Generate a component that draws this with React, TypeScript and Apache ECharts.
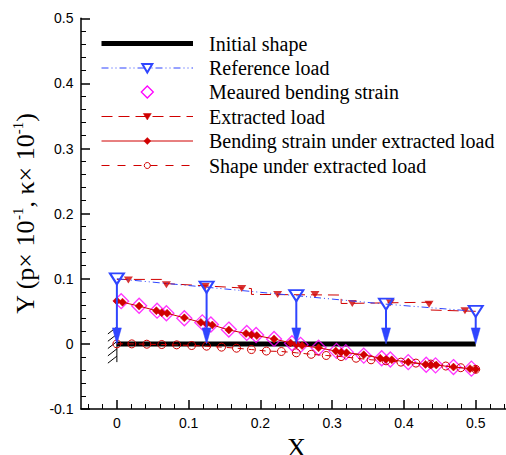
import React, { useEffect, useRef } from "react";
import * as echarts from "echarts";

// ---------- data ----------
const initX = [0, 0.5];
const initY = [0, 0];

const refX = [0, 0.125, 0.25, 0.375, 0.5];
const refY = [0.1, 0.087, 0.074, 0.061, 0.05];

const stepX = [0, 0.0625, 0.0625, 0.1875, 0.1875, 0.3125, 0.3125, 0.4375, 0.4375, 0.5];
const stepY = [0.099, 0.099, 0.093, 0.085, 0.076, 0.075, 0.062, 0.064, 0.052, 0.05];

const extX = [0.016, 0.069, 0.123, 0.174, 0.224, 0.276, 0.328, 0.381, 0.435, 0.485];
const extY = [0.098, 0.091, 0.088, 0.085, 0.076, 0.076, 0.062, 0.063, 0.061, 0.051];

const measX = [0.006, 0.031, 0.056, 0.069, 0.094, 0.119, 0.131, 0.156, 0.181, 0.194, 0.219, 0.244, 0.256, 0.281, 0.306, 0.319, 0.344, 0.369, 0.381, 0.406, 0.431, 0.444, 0.469, 0.494];
const measY = [0.0656, 0.0585, 0.051, 0.047, 0.0394, 0.033, 0.0298, 0.022, 0.0168, 0.0137, 0.0076, 0.001, -0.0015, -0.006, -0.0107, -0.0127, -0.018, -0.022, -0.024, -0.028, -0.032, -0.033, -0.0356, -0.038];

const bendX = [0, 0.0078, 0.031, 0.055, 0.0625, 0.07, 0.094, 0.117, 0.125, 0.133, 0.156, 0.18, 0.1875, 0.195, 0.219, 0.242, 0.25, 0.258, 0.281, 0.305, 0.3125, 0.32, 0.344, 0.367, 0.375, 0.383, 0.406, 0.43, 0.4375, 0.445, 0.469, 0.492, 0.5];
const bendY = [0.066, 0.064, 0.058, 0.051, 0.048, 0.047, 0.04, 0.033, 0.031, 0.029, 0.0214, 0.016, 0.014, 0.0127, 0.0076, 0.0015, -0.001, -0.0026, -0.006, -0.011, -0.0127, -0.0135, -0.0168, -0.022, -0.024, -0.0245, -0.028, -0.0315, -0.032, -0.0325, -0.0356, -0.038, -0.039];

const shapeX = [0, 0.0208, 0.0417, 0.0625, 0.0833, 0.1042, 0.125, 0.1458, 0.1667, 0.1875, 0.2083, 0.2292, 0.25, 0.2708, 0.2917, 0.3125, 0.3333, 0.3542, 0.375, 0.3958, 0.4167, 0.4375, 0.4583, 0.4792, 0.5];
const shapeY = [0, 0, -0.0005, -0.001, -0.0015, -0.0025, -0.0035, -0.005, -0.0066, -0.0087, -0.011, -0.0117, -0.0137, -0.016, -0.0178, -0.0195, -0.022, -0.0244, -0.026, -0.028, -0.0295, -0.031, -0.034, -0.0366, -0.039];

// ---------- axes ----------
const X_MIN = -0.05, X_MAX = 0.55, Y_MIN = -0.1, Y_MAX = 0.5;
const xMajorTicks = [0, 0.1, 0.2, 0.3, 0.4, 0.5];
const xMinorTicks = [-0.04, -0.02, 0.02, 0.04, 0.06, 0.08, 0.12, 0.14, 0.16, 0.18, 0.22, 0.24, 0.26, 0.28, 0.32, 0.34, 0.36, 0.38, 0.42, 0.44, 0.46, 0.48, 0.52, 0.54];
const xName = "X";
const yNameRich = "{n|Y (p× 10}{s|-1}{n|, κ× 10}{s|-1}{n|)}";

const legendLabels = [
  "Initial shape",
  "Reference load",
  "Meaured bending strain",
  "Extracted load",
  "Bending strain under extracted load",
  "Shape under extracted load",
];

const BLUE = "#2f45ff";
const RED = "#d00000";
const MAG = "#ff00ff";
const SERIF = "Liberation Serif";
const SANS = "Liberation Sans";

const GRID = { left: 81, right: -5.6, top: 18.3, bottom: 46, outerBoundsMode: "none" };

const zip = (xs: number[], ys: number[]) => xs.map((x, i) => [x, ys[i]]);

export default function App() {
  const dataRef = useRef<HTMLDivElement>(null);
  const axisRef = useRef<HTMLDivElement>(null);
  useEffect(() => {
    const chart = echarts.init(dataRef.current!, null, { renderer: "svg" });
    const axisChart = echarts.init(axisRef.current!, null, { renderer: "svg" });

    // legend graphics
    const rows = [43.5, 68, 92, 116.5, 141, 165.5];
    const lx1 = 101.5, lx2 = 193, sx = 147.3, tx = 209;
    const g: any[] = [];
    const line = (y: number, stroke: string, w: number, dash?: number[]) => ({
      type: "line",
      shape: { x1: lx1, y1: y, x2: lx2, y2: y },
      style: dash ? { stroke, lineWidth: w, lineDash: dash } : { stroke, lineWidth: w },
    });
    g.push(line(rows[0], "#000", 5));
    g.push(line(rows[1], BLUE, 1, [7, 3, 1, 3, 1, 3]));
    g.push({
      type: "polygon",
      shape: { points: [[sx - 5, rows[1] - 4], [sx + 5, rows[1] - 4], [sx, rows[1] + 4.5]] },
      style: { fill: "#fff", stroke: BLUE, lineWidth: 2 },
    });
    g.push({
      type: "polygon",
      shape: { points: [[sx, rows[2] - 6], [sx + 6, rows[2]], [sx, rows[2] + 6], [sx - 6, rows[2]]] },
      style: { fill: "#fff", stroke: MAG, lineWidth: 1.3 },
    });
    g.push(line(rows[3], RED, 1, [11, 6]));
    g.push({
      type: "polygon",
      shape: { points: [[sx - 4, rows[3] - 3], [sx + 4, rows[3] - 3], [sx, rows[3] + 3.5]] },
      style: { fill: RED, stroke: RED, lineWidth: 0.5 },
    });
    g.push(line(rows[4], RED, 1));
    g.push({
      type: "polygon",
      shape: { points: [[sx, rows[4] - 3.5], [sx + 3.5, rows[4]], [sx, rows[4] + 3.5], [sx - 3.5, rows[4]]] },
      style: { fill: RED, stroke: RED, lineWidth: 0.5 },
    });
    g.push(line(rows[5], RED, 1, [8, 8]));
    g.push({
      type: "circle",
      shape: { cx: sx, cy: rows[5], r: 3 },
      style: { fill: "#fff", stroke: RED, lineWidth: 1 },
    });
    legendLabels.forEach((t, i) => {
      g.push({
        type: "text",
        x: tx,
        y: rows[i],
        style: { text: t, fontFamily: SERIF, fontSize: 20, fill: "#000", verticalAlign: "middle", align: "left" },
      });
    });

    // ----- data chart -----
    chart.setOption({
      animation: false,
      grid: GRID,
      xAxis: { type: "value", min: X_MIN, max: X_MAX, show: false },
      yAxis: { type: "value", min: Y_MIN, max: Y_MAX, interval: 0.1, show: false },
      graphic: g,
      series: [
        {
          name: "Initial shape",
          type: "line",
          data: zip(initX, initY),
          showSymbol: false,
          lineStyle: { color: "#000", width: 5 },
          z: 2,
        },
        {
          name: "clamp",
          type: "custom",
          data: [[0, 0]],
          clip: false,
          z: 2,
          renderItem: (params: any, api: any) => {
            const p = api.coord([api.value(0), 0.026]);
            const q = api.coord([api.value(0), -0.028]);
            const ch: any[] = [
              { type: "line", shape: { x1: p[0], y1: p[1], x2: q[0], y2: q[1] }, style: { stroke: "#000", lineWidth: 1 } },
            ];
            for (let i = 0; i < 5; i++) {
              const y = p[1] + i * 7.3;
              ch.push({ type: "line", shape: { x1: p[0], y1: y, x2: p[0] - 9, y2: y + 7 }, style: { stroke: "#000", lineWidth: 1 } });
            }
            return { type: "group", children: ch };
          },
        },
        {
          name: "Meaured bending strain",
          type: "scatter",
          data: zip(measX, measY),
          symbol: "diamond",
          symbolSize: 15,
          itemStyle: { color: "rgba(255,255,255,0)", borderColor: MAG, borderWidth: 1.3 },
          z: 3,
        },
        {
          name: "Bending strain under extracted load",
          type: "line",
          data: zip(bendX, bendY),
          symbol: "diamond",
          symbolSize: 8,
          showAllSymbol: true,
          lineStyle: { color: RED, width: 1 },
          itemStyle: { color: RED, borderColor: RED, borderWidth: 0.5 },
          z: 4,
        },
        {
          name: "Shape under extracted load",
          type: "line",
          data: zip(shapeX, shapeY),
          symbol: "circle",
          symbolSize: 8,
          showAllSymbol: true,
          lineStyle: { color: RED, width: 1, type: [6, 5] },
          itemStyle: { color: "rgba(255,255,255,0)", borderColor: RED, borderWidth: 1 },
          z: 4,
        },
        {
          name: "Extracted load",
          type: "line",
          data: zip(stepX, stepY),
          showSymbol: false,
          lineStyle: { color: RED, width: 1, type: [11, 6] },
          z: 5,
        },
        {
          name: "Extracted load markers",
          type: "scatter",
          data: zip(extX, extY),
          symbol: "triangle",
          symbolRotate: 180,
          symbolSize: [9, 7],
          itemStyle: { color: RED },
          z: 5,
        },
        {
          name: "Reference load",
          type: "line",
          data: zip(refX, refY),
          symbol: "triangle",
          symbolRotate: 180,
          symbolSize: [14, 11],
          showAllSymbol: true,
          lineStyle: { color: BLUE, width: 1, type: [7, 3, 1, 3, 1, 3] },
          itemStyle: { color: "rgba(255,255,255,0)", borderColor: BLUE, borderWidth: 2 },
          z: 6,
        },
        {
          name: "Load arrows",
          type: "custom",
          data: zip(refX, refY),
          clip: false,
          z: 6,
          renderItem: (params: any, api: any) => {
            const x = api.value(0);
            const y = api.value(1);
            const p0 = api.coord([x, y]);
            const p1 = api.coord([x, 0]);
            return {
              type: "group",
              children: [
                { type: "line", shape: { x1: p0[0], y1: p0[1] + 5, x2: p1[0], y2: p1[1] - 14 }, style: { stroke: BLUE, lineWidth: 2 } },
                {
                  type: "polygon",
                  shape: { points: [[p1[0] - 4.5, p1[1] - 16], [p1[0] + 4.5, p1[1] - 16], [p1[0], p1[1]]] },
                  style: { fill: BLUE, stroke: BLUE, lineWidth: 0.5 },
                },
              ],
            };
          },
        },
      ],
    } as any);

    // ----- axis chart (overlay with the same grid and scales) -----
    axisChart.setOption({
      animation: false,
      backgroundColor: "rgba(0,0,0,0)",
      grid: GRID,
      xAxis: [
        {
          type: "value",
          min: X_MIN,
          max: X_MAX,
          name: xName,
          nameLocation: "middle",
          nameGap: 21,
          nameTextStyle: { fontFamily: SERIF, fontSize: 26, color: "#000" },
          axisLine: { show: true, onZero: false, lineStyle: { color: "#000", width: 1.5 } },
          axisTick: { show: true, inside: true, length: 9, customValues: xMajorTicks, lineStyle: { color: "#000", width: 1.5 } },
          axisLabel: { customValues: xMajorTicks, fontFamily: SANS, fontSize: 14, color: "#000", margin: 7 },
          splitLine: { show: false },
        },
        {
          type: "value",
          min: X_MIN,
          max: X_MAX,
          position: "bottom",
          axisLine: { show: false, onZero: false },
          axisTick: { show: true, inside: true, length: 5, customValues: xMinorTicks, lineStyle: { color: "#000", width: 1 } },
          axisLabel: { show: false },
          splitLine: { show: false },
        },
      ],
      yAxis: {
        type: "value",
        min: Y_MIN,
        max: Y_MAX,
        interval: 0.1,
        name: yNameRich,
        nameLocation: "middle",
        nameGap: 40,
        nameRotate: 90,
        nameTextStyle: {
          fontFamily: SERIF,
          fontSize: 26,
          color: "#000",
          rich: {
            n: { fontFamily: SERIF, fontSize: 26, color: "#000", lineHeight: 30 },
            s: { fontFamily: SERIF, fontSize: 15, color: "#000", verticalAlign: "top", lineHeight: 30 },
          },
        },
        axisLine: { show: true, onZero: false, lineStyle: { color: "#000", width: 1.5 } },
        axisTick: { show: true, inside: true, length: 9, lineStyle: { color: "#000", width: 1.5 } },
        minorTick: { show: true, splitNumber: 5, length: 5, lineStyle: { color: "#000", width: 1 } },
        axisLabel: { fontFamily: SANS, fontSize: 14, color: "#000", margin: 7.5 },
        splitLine: { show: false },
      },
      series: [{ type: "line", data: [], silent: true }],
    } as any);

    return () => {
      chart.dispose();
      axisChart.dispose();
    };
  }, []);
  return (
    <div style={{ position: "fixed", left: 0, top: 0, width: 506, height: 455, background: "#fff" }}>
      <div ref={dataRef} style={{ position: "absolute", left: 0, top: 0, width: 506, height: 455 }} />
      <div ref={axisRef} style={{ position: "absolute", left: 0, top: 0, width: 506, height: 455, pointerEvents: "none" }} />
    </div>
  );
}
